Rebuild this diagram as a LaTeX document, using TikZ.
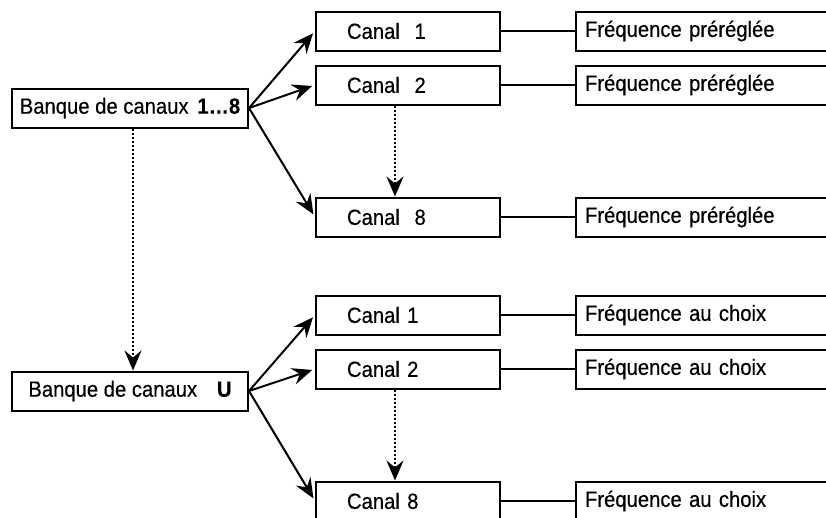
\documentclass[tikz,border=0pt]{standalone}
\usepackage{fontspec}
\setmainfont{Liberation Sans}[FakeStretch=0.92, FakeBold=0.4]
\usetikzlibrary{arrows.meta,positioning}

\tikzset{
  box/.style={draw, line width=2pt, minimum height=39pt, inner ysep=0pt,
    font=\fontsize{22}{26}\selectfont},
  bank/.style={box, minimum width=236pt},
  chan/.style={box, text width=122pt, inner xsep=31pt, align=left},
  freq/.style={box, text width=233pt, inner xsep=9pt, align=left},
  link/.style={line width=2pt, -{Stealth[length=20pt,width=17pt,inset=7pt]}, shorten >=3pt},
  skip/.style={link, dash pattern=on 2pt off 2pt, shorten >=0pt},
  wire/.style={line width=2pt},
}

\begin{document}
\begin{tikzpicture}[x=1pt, y=-1pt, node distance=74pt]
  \useasboundingbox (0,0) rectangle (826,517);

  % preset bank
  \node [bank] (bankA) at (130,108) {Banque de canaux\hspace{0.4em}\textbf{1…8}};
  \node [chan] (a1) at (408,31) {Canal\ \ 1};
  \node [chan] (a2) at (408,85) {Canal\ \ 2};
  \node [chan] (a8) at (408,217) {Canal\ \ 8};
  \node [freq, right=of a1] (fa1) {Fréquence préréglée};
  \node [freq, right=of a2] (fa2) {Fréquence préréglée};
  \node [freq, right=of a8] (fa8) {Fréquence préréglée};

  % user bank
  \node [bank] (bankU) at (130,391) {Banque de canaux\hspace{0.9em}\textbf{U}};
  \node [chan] (u1) at (408,315) {Canal 1};
  \node [chan] (u2) at (408,369) {Canal 2};
  \node [chan] (u8) at (408,501) {Canal 8};
  \node [freq, right=of u1] (fu1) {Fréquence au choix};
  \node [freq, right=of u2] (fu2) {Fréquence au choix};
  \node [freq, right=of u8] (fu8) {Fréquence au choix};

  \foreach \b/\c in {A/a, U/u} {
    \draw [link] (bank\b.east) -- (\c1.west);
    \draw [link] (bank\b.east) -- (\c2.west);
    \draw [link] (bank\b.east) -- (\c8.west);
    \draw [skip] ([xshift=-13pt]\c2.south) -- ([xshift=-13pt]\c8.north);
    \draw [wire] (\c1) -- (f\c1);
    \draw [wire] (\c2) -- (f\c2);
    \draw [wire] (\c8) -- (f\c8);
  }
  \draw [skip] ([xshift=3pt]bankA.south) -- ([xshift=3pt]bankU.north);
\end{tikzpicture}
\end{document}
